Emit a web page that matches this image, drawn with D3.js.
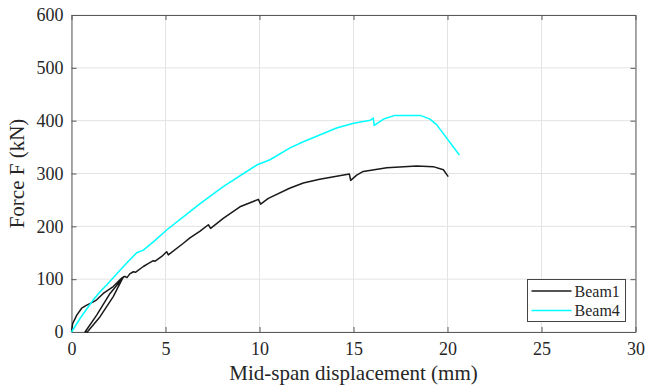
<!DOCTYPE html>
<html>
<head>
<meta charset="utf-8">
<script src="https://cdn.jsdelivr.net/npm/d3@7"></script>
<style>
  body { margin: 0; background: #fff; }
  svg text { font-family: "Liberation Serif", "Times New Roman", serif !important; fill: #262626; }
</style>
</head>
<body>
<div id="chart"></div>
<script>
// Beam1 (black) - includes the unload / reload loop near the start
const beam1Disp = [0, 0.06, 0.28, 0.54, 0.81, 1.16, 1.34, 1.69, 2.22, 2.67, 2.75,
  2.22, 1.52, 0.84, 0.72, 1.34, 2.05, 2.8,
  2.85, 2.95, 3.1, 3.29, 3.4, 3.82, 4.1, 4.35, 4.45, 4.8, 5.06, 5.15, 5.95, 6.3, 6.84,
  7.28, 7.4, 8.07, 8.96, 9.94, 10.06, 10.47, 11.6, 12.33, 13.2, 14.1, 14.78, 14.85,
  15.17, 15.52, 16.77, 18.36, 19.24, 19.78, 20.04]
const beam1Force = [0, 16, 32, 45, 51, 57, 61, 73, 86, 102, 104,
  67, 29, 0, 0, 32, 73, 105,
  105, 103, 110, 114, 113, 124, 130, 135, 134, 143, 152, 146, 168, 178, 191,
  203, 196, 215, 237, 251, 242, 253, 272, 282, 289, 295, 299, 287,
  297, 304, 311, 314, 313, 307, 294]

// Beam4 (cyan)
const beam4Disp = [0, 0.46, 1.16, 1.52, 1.87, 2.58, 3.0, 3.47, 3.82, 4.4, 5.06, 6.3, 6.84,
  8.07, 9.85, 10.56, 11.6, 12.33, 14.1, 15.0, 15.9, 16.05, 16.1, 16.6, 17.2, 18.55,
  19.07, 19.43, 20.63]
const beam4Force = [0, 26, 61, 76, 89, 117, 133, 150, 155, 172, 193, 228, 243,
  275, 316, 326, 348, 360, 386, 395, 401, 405, 391, 403, 410, 410,
  403, 392, 335]

const xTicks = [0, 5, 10, 15, 20, 25, 30]
const yTicks = [0, 100, 200, 300, 400, 500, 600]

const seriesNames = ['Beam1', 'Beam4']
const seriesColors = ['#1a1a1a', '#00ffff']

const W = 646, H = 386
const m = { left: 71.5, right: 10.5, top: 15, bottom: 54 }
const serif = '"Liberation Serif", "Times New Roman", serif'

const svg = d3.select('#chart').append('svg').attr('width', W).attr('height', H)
  .style('background', '#fff')

const x = d3.scaleLinear().domain([0, 30]).range([m.left, W - m.right])
const y = d3.scaleLinear().domain([0, 600]).range([H - m.bottom, m.top])

// grid
const grid = svg.append('g')
grid.selectAll('line.gx').data(xTicks).enter().append('line')
  .attr('x1', d => x(d)).attr('x2', d => x(d)).attr('y1', y(0)).attr('y2', y(600))
  .attr('stroke', '#e3e3e3').attr('stroke-width', 1)
grid.selectAll('line.gy').data(yTicks).enter().append('line')
  .attr('y1', d => y(d)).attr('y2', d => y(d)).attr('x1', x(0)).attr('x2', x(30))
  .attr('stroke', '#e3e3e3').attr('stroke-width', 1)

// axes (ticks inside, on all four sides)
const tickLen = 5
const xAxis = svg.append('g').attr('transform', `translate(0,${y(0)})`)
  .call(d3.axisBottom(x).tickValues(xTicks).tickSizeInner(-tickLen).tickSizeOuter(0).tickPadding(10))
const yAxis = svg.append('g').attr('transform', `translate(${x(0)},0)`)
  .call(d3.axisLeft(y).tickValues(yTicks).tickSizeInner(-tickLen).tickSizeOuter(0).tickPadding(8))
const xTop = svg.append('g').attr('transform', `translate(0,${y(600)})`)
  .call(d3.axisTop(x).tickValues(xTicks).tickSizeInner(-tickLen).tickSizeOuter(0).tickFormat(''))
const yRight = svg.append('g').attr('transform', `translate(${x(30)},0)`)
  .call(d3.axisRight(y).tickValues(yTicks).tickSizeInner(-tickLen).tickSizeOuter(0).tickFormat(''))

;[xAxis, yAxis, xTop, yRight].forEach(g => {
  g.attr('font-family', serif).attr('font-size', 18)
  g.select('.domain').attr('stroke', '#5a5a5a').attr('stroke-width', 1)
  g.selectAll('.tick line').attr('stroke', '#5a5a5a')
  g.selectAll('.tick text').attr('fill', '#262626')
})

// axis titles
svg.append('text').attr('x', (x(0) + x(30)) / 2).attr('y', 380)
  .attr('text-anchor', 'middle').attr('font-size', 21)
  .text('Mid-span displacement (mm)')
svg.append('text').attr('transform', `translate(24,${(y(0) + y(600)) / 2}) rotate(-90)`)
  .attr('text-anchor', 'middle').attr('font-size', 21)
  .text('Force F (kN)')

// curves
const line = d3.line().x(d => x(d[0])).y(d => y(d[1]))
const series = [
  d3.zip(beam1Disp, beam1Force),
  d3.zip(beam4Disp, beam4Force)
]
svg.append('g').selectAll('path').data(series).enter().append('path')
  .attr('d', line).attr('fill', 'none')
  .attr('stroke', (d, i) => seriesColors[i]).attr('stroke-width', 1.5)
  .attr('stroke-linejoin', 'round')

// legend
const lg = svg.append('g').attr('transform', 'translate(527.5,279.5)')
lg.append('rect').attr('width', 98).attr('height', 42)
  .attr('fill', '#fff').attr('stroke', '#444').attr('stroke-width', 1)
seriesNames.forEach((name, i) => {
  const yy = 11.5 + i * 19.5
  lg.append('line').attr('x1', 4).attr('x2', 44).attr('y1', yy).attr('y2', yy)
    .attr('stroke', seriesColors[i]).attr('stroke-width', 1.5)
  lg.append('text').attr('x', 47).attr('y', yy + 5.5).attr('font-size', 16).text(name)
})
</script>
</body>
</html>
